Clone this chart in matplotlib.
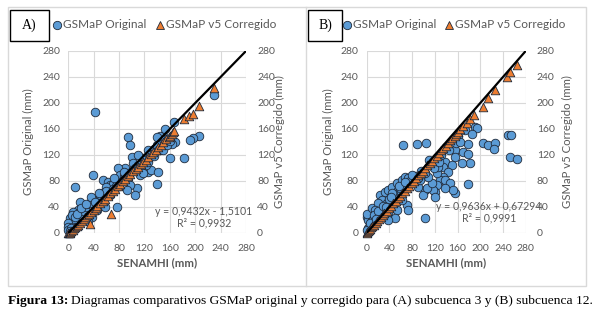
import matplotlib
matplotlib.use("Agg")
import matplotlib.pyplot as plt
from matplotlib.patches import Rectangle
from matplotlib.lines import Line2D

# ---------------- data ----------------
ticks = [0, 40, 80, 120, 160, 200, 240, 280]

a_orig_x = [42, 229.5, 166, 94.5, 97, 206, 196, 191, 182, 160, 139, 10.5, 39, 100, 76, 108, 113,
            168, 163, 144, 126, 129, 126, 131, 142, 118, 102, 113, 118, 123, 105, 94.5, 97, 92, 89,
            79, 81, 87, 55, 63, 66, 71, 60, 52.5, 47, 55, 60, 66, 39, 34, 26, 18, 16, 24, 8, 3, 0, 0,
            0, 45, 50, 58, 37, 31.5, 21, 150, 155, 148, 135, 140, 120, 110, 105, 90, 85, 75, 70, 65,
            50, 45, 30, 25, 20, 15, 12, 8, 5, 2, 6, 10, 14, 20, 28, 35, 42, 48, 72, 80, 88, 95, 100,
            110, 125, 135, 150, 155, 145, 140, 152, 160]
a_orig_y = [186, 212, 171, 147, 136, 149, 146, 143, 116, 115, 75, 71, 90, 117, 39.5, 69, 89,
            140, 137, 127, 128, 120, 94, 97, 94, 115, 107, 102, 92, 105, 58, 84, 74, 66, 99.5,
            99.5, 89, 87, 81.5, 79, 74, 76, 71, 61, 53, 56, 64, 58.5, 51, 46, 40.5, 48, 35, 30, 33, 23, 15, 10,
            5, 35, 43, 40.5, 25, 18, 20, 150, 145, 140, 130, 135, 112, 105, 100, 88, 80, 72, 68, 60,
            50, 46, 32, 27, 22, 14, 18, 10, 8, 3, 28, 24, 30, 38, 45, 55, 48, 62, 84, 72, 94, 90, 95,
            120, 110, 118, 128, 135, 150, 148, 160, 141]

a_corr_x = [0, 1, 2, 3, 5, 7, 9, 11, 13, 15, 18, 21, 24, 27, 30, 33, 34, 36, 40, 43, 46, 50, 54, 58,
            62, 66, 68, 70, 74, 78, 82, 86, 90, 94, 98, 102, 106, 110, 114, 118, 122, 126, 130, 134,
            138, 142, 146, 150, 154, 158, 161, 163, 165, 166, 182, 190.6, 196, 206, 229.5]
a_corr_y = [0, 0, 0.5, 1.5, 3, 5, 7, 9, 11, 12.5, 15.5, 18, 21, 24, 27, 29.5, 14, 32, 36, 39, 42,
            45.5, 49, 53, 57, 61, 30, 64, 68, 72, 76, 80, 83, 87, 91, 95, 98, 102, 106, 110, 113,
            117, 121, 125, 128, 132, 136, 140, 144, 147, 150, 152, 156, 157, 176, 180, 182.6, 195, 223.5]

b_orig_x = [63.4, 88, 104.5, 205.5, 213, 226, 225, 249.6, 253.7, 252.5, 264.3, 155.6, 170.3, 177.9,
            182, 167.3, 155.6, 158, 137.9, 135, 149.7, 143.8, 135, 129.2, 137.9, 123.3, 146.8, 155.6,
            152.7, 137.9, 120.3, 117.4, 102.7, 99.8, 120.3, 105.7, 114.5, 108.6, 102.7, 123.3, 126.2,
            177.9, 102.7, 0, 2.9, 0, 8.8, 23.4, 32.2, 38.1, 44, 52.8, 61.6, 67.5, 73.4, 82.2, 26.4,
            35.2, 20.5, 14.6, 29.3, 38.1, 44, 49.9, 55.7, 70.4, 73.4, 61.6, 52.8, 14.6, 8.8, 49.9,
            38.1, 91, 93.9, 173, 190.8, 193.8, 178, 5, 10, 18, 25, 30, 40, 46, 58, 65, 76, 85, 95,
            110, 130, 140, 160, 3, 12, 20, 28, 45, 56, 68, 80, 1, 6, 16, 34, 42, 90, 118, 128, 145,
            165, 185]
b_orig_y = [135.4, 137, 139, 138, 135.4, 139, 130, 150.8, 150.8, 116.5, 113.4, 127.7, 125, 121.5,
            107.7, 107.7, 117.4, 138, 109.7, 102, 104.6, 94.4, 86.7, 81.5, 81.5, 73.8, 76.4, 61,
            66.2, 68.7, 63.6, 66.2, 66.2, 58.5, 56, 68.7, 76.4, 86.7, 91.8, 91.8, 102,
            75.4, 22.6, 25, 20.3, 30, 37.9, 58.5, 63.6, 66.2, 71.3, 76.4, 81.5, 86.7, 84.1, 86.7, 50.8,
            45.6, 45.6, 35.4, 35.4, 30.3, 40.5, 56, 66.2, 43.1, 35.4, 50.8, 35.4, 22.6, 17.7, 22.6,
            20, 71.3, 81.5, 158.5, 163.5, 162, 136.5, 12, 18, 24, 32, 40, 52, 60, 70, 74, 80, 88, 96,
            112, 120, 132, 150, 8, 28, 34, 42, 62, 72, 78, 90, 4, 15, 22, 40, 55, 84, 100, 110, 128,
            140, 152]

b_corr_x = [0, 1, 2, 4, 6, 8, 10, 13, 16, 19, 22, 25, 28, 31, 35, 39, 43, 47, 51, 55, 59, 63, 67,
            71, 75, 79, 83, 87, 91, 95, 99, 103, 107, 111, 115, 119, 123, 127, 131, 135, 139, 143,
            147, 151, 155, 158, 161.4, 165, 170, 176, 182, 189.6, 204.4, 213, 226, 246.7, 252.5, 264.3]
b_corr_y = [0.5, 1.5, 2.5, 4.5, 6.5, 8.5, 10.5, 13, 16, 19, 22, 25, 27.5, 30.5, 34.5, 38, 42, 46,
            50, 53.5, 57.5, 61.5, 65, 69, 73, 77, 80.5, 84.5, 88.5, 92, 96, 100, 104, 107.5, 111.5,
            115, 119, 123, 127, 131, 134.5, 138.5, 142.5, 146, 150, 153, 156, 160, 164.6, 170, 176,
            182, 194.3, 207, 220, 240.5, 248, 258.5]

line_x = [0, 280]
line_y = [0, 280]

a_eq = ["y = 0,9432x - 1,5101", "R² = 0,9932"]
b_eq = ["y = 0,9636x + 0,67294", "R² = 0,9991"]

# ---------------- figure ----------------
W, H = 601, 314
fig = plt.figure(figsize=(W / 100, H / 100), dpi=100)
FONT = ['Lato', 'DejaVu Sans']
SERIF = ['Liberation Serif', 'DejaVu Serif']
GREY = '#595959'
GRID = '#D9D9D9'
BLUE = '#5B9BD5'
ORANGE = '#ED7D31'
EDGE = '#1F2A3A'


def fx(x):
    return x / W


def fy(y):
    return 1 - y / H


# outer frame and divider
fig.add_artist(Rectangle((fx(8), fy(286)), fx(586) - fx(8), fy(7) - fy(286),
                         transform=fig.transFigure, fill=False, ec=GRID, lw=1.0))
fig.add_artist(Line2D([fx(306), fx(306)], [fy(7), fy(286)], transform=fig.transFigure,
                      color=GRID, lw=1.0))


def panel(left_px, right_px, ox, oy, cx, cy, eq, eq_cx, eq_y1, eq_y2,
          label, lbl_box, leg, ylab_l, ylab_r):
    ax = fig.add_axes([fx(left_px), fy(233), fx(right_px) - fx(left_px), fy(51) - fy(233)])
    ax.set_xlim(0, 280)
    ax.set_ylim(0, 280)
    ax.set_xticks(ticks)
    ax.set_yticks(ticks)
    ax.grid(True, color=GRID, lw=0.8)
    ax.set_axisbelow(True)
    for s in ax.spines.values():
        s.set_visible(False)
    ax.tick_params(length=0, labelsize=7.5, labelcolor=GREY, pad=6)
    ax.tick_params(axis='x', pad=8)
    for t in ax.get_xticklabels() + ax.get_yticklabels():
        t.set_fontfamily(FONT)
    ax.scatter(ox, oy, s=38, marker='o', facecolor=BLUE, edgecolor=EDGE, lw=0.6,
               zorder=3, clip_on=False)
    ax.scatter(cx, cy, s=38, marker='^', facecolor=ORANGE, edgecolor=EDGE, lw=0.6,
               zorder=4, clip_on=False)
    ax.plot(line_x, line_y, color='black', lw=1.6, zorder=5, solid_capstyle='butt')

    ax2 = ax.twinx()
    ax2.set_ylim(0, 280)
    ax2.set_yticks(ticks)
    for s in ax2.spines.values():
        s.set_visible(False)
    ax2.tick_params(length=0, labelsize=7.5, labelcolor=GREY, pad=8)
    for t in ax2.get_yticklabels():
        t.set_fontfamily(FONT)

    # axis titles
    cxp = (left_px + right_px) / 2
    fig.text(fx(cxp), fy(263), "SENAMHI (mm)", ha='center', va='center', fontsize=8.2,
             color=GREY, family=FONT, fontweight='bold')
    fig.text(fx(ylab_l), fy(142), "GSMaP Original (mm)", ha='center', va='center',
             rotation=90, fontsize=8.2, color=GREY, family=FONT)
    fig.text(fx(ylab_r), fy(142), "GSMaP v5 Corregido (mm)", ha='center', va='center',
             rotation=90, fontsize=8.2, color=GREY, family=FONT)

    # trendline equation
    fig.text(fx(eq_cx), fy(eq_y1), eq[0], ha='center', va='center', fontsize=7.6,
             color=GREY, family=FONT)
    fig.text(fx(eq_cx), fy(eq_y2), eq[1], ha='center', va='center', fontsize=7.6,
             color=GREY, family=FONT)

    # panel label box
    x0, x1 = lbl_box
    fig.add_artist(Rectangle((fx(x0), fy(41)), fx(x1) - fx(x0), fy(10) - fy(41),
                             transform=fig.transFigure, fill=False, ec='black', lw=1.0))
    fig.text(fx((x0 + x1) / 2), fy(25.5), label, ha='center', va='center', fontsize=10,
             family=SERIF, color='black')

    # legend
    c1, t1, c2, t2 = leg
    fig.add_artist(Line2D([fx(c1)], [fy(24.5)], transform=fig.transFigure, marker='o',
                          markersize=6, markerfacecolor=BLUE, markeredgecolor=EDGE,
                          markeredgewidth=0.6, linestyle='None'))
    fig.text(fx(t1), fy(24.5), "GSMaP Original", ha='left', va='center', fontsize=8.6,
             color=GREY, family=FONT)
    fig.add_artist(Line2D([fx(c2)], [fy(24.5)], transform=fig.transFigure, marker='^',
                          markersize=6.2, markerfacecolor=ORANGE, markeredgecolor=EDGE,
                          markeredgewidth=0.6, linestyle='None'))
    fig.text(fx(t2), fy(24.5), "GSMaP v5 Corregido", ha='left', va='center', fontsize=8.6,
             color=GREY, family=FONT)


panel(68.3, 246, a_orig_x, a_orig_y, a_corr_x, a_corr_y, a_eq, 204, 211.7, 223.3,
      "A)", (10, 49), (57, 63, 160, 166), 28, 279)
panel(366.7, 525.7, b_orig_x, b_orig_y, b_corr_x, b_corr_y, b_eq, 489, 206.7, 218.3,
      "B)", (308, 342), (347, 353, 449, 455), 328, 567)

# caption
r = fig.canvas.get_renderer()
t_b = fig.text(fx(8), fy(301), "Figura 13:", ha='left', va='center', fontsize=9.7,
               family=SERIF, fontweight='bold', color='black')
bb = t_b.get_window_extent(renderer=r)
fig.text(bb.x1 / (fig.dpi * fig.get_figwidth()) + fx(3), fy(301),
         "Diagramas comparativos GSMaP original y corregido para (A) subcuenca 3 y (B) subcuenca 12.",
         ha='left', va='center', fontsize=9.7, family=SERIF, color='black')

fig.savefig("out.png", dpi=100)
